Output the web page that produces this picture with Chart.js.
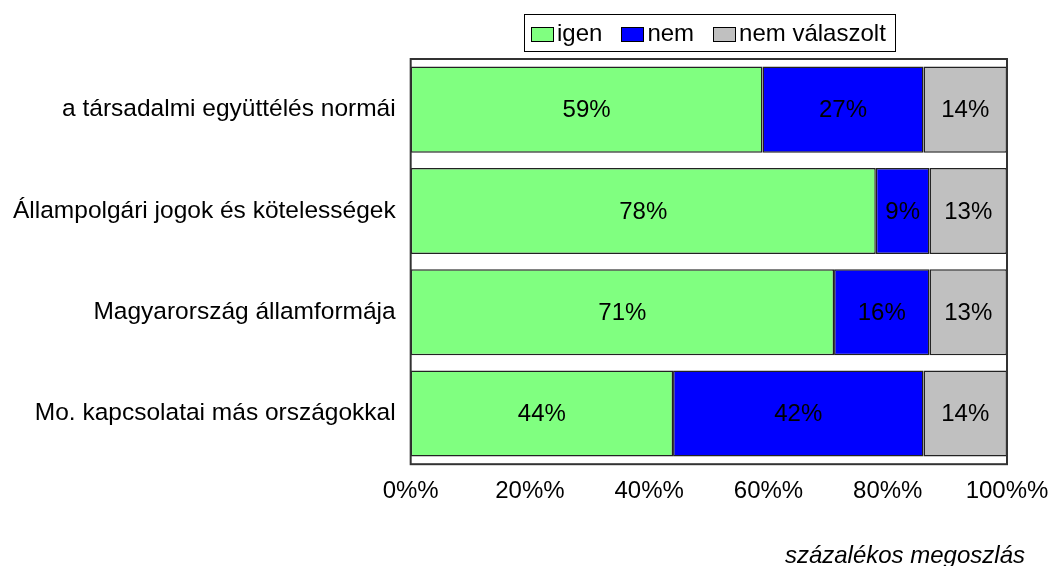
<!DOCTYPE html>
<html>
<head>
<meta charset="utf-8">
<script src="https://cdn.jsdelivr.net/npm/chart.js@4/dist/chart.umd.min.js"></script>
<style>
  body { margin: 0; background: #fff; }
  #wrap { position: relative; width: 1051px; height: 566px; overflow: hidden; }
  #legend {
    position: absolute; left: 524px; top: 14px; height: 36px;
    border: 1px solid #000; padding: 0 9px 0 6px;
    font: 24px "Liberation Sans", Arial, sans-serif; color: #000;
    display: flex; align-items: center; white-space: nowrap;
  }
  #legend span.box {
    display: inline-block; width: 23px; height: 15px;
    border: 1px solid #000; margin: 2px 3px 0 0; box-sizing: border-box;
  }
  #legend span.txt { margin-right: 19px; }
  #legend span.txt:last-child { margin-right: 0; }
  #axis_title {
    position: absolute; right: 26px; top: 541px; line-height: 28px;
    font: italic 24px "Liberation Sans", Arial, sans-serif; color: #000;
    white-space: nowrap;
  }
</style>
</head>
<body>
<div id="wrap">
  <canvas id="bar_chart" width="1051" height="566"></canvas>
  <div id="legend"></div>
  <div id="axis_title"></div>
</div>
<script>
// DATA
const categories = [
  "a társadalmi együttélés normái",
  "Állampolgári jogok és kötelességek",
  "Magyarország államformája",
  "Mo. kapcsolatai más országokkal",
];
const series_names = ["igen", "nem", "nem válaszolt"];
const igen_values = [59, 78, 71, 44];
const nem_values = [27, 9, 16, 42];
const nincs_values = [14, 13, 13, 14];
const tick_labels = ["0%%", "20%%", "40%%", "60%%", "80%%", "100%%"];
const axis_title = "százalékos megoszlás";

const colors = ["#80FF80", "#0000FF", "#C0C0C0"];
const FONT = "'Liberation Sans', Arial, sans-serif";

// HTML LEGEND + AXIS TITLE
const legend_element = document.getElementById("legend");
series_names.forEach((name, i) => {
  legend_element.innerHTML +=
    `<span class="box" style="background:${colors[i]}"></span><span class="txt">${name}</span>`;
});
document.getElementById("axis_title").textContent = axis_title;

// VALUE LABELS INSIDE BARS
const barLabels = {
  id: "barLabels",
  afterDatasetsDraw(chart) {
    const ctx = chart.ctx;
    ctx.save();
    ctx.font = `24px ${FONT}`;
    ctx.fillStyle = "#000";
    ctx.textAlign = "center";
    ctx.textBaseline = "middle";
    chart.data.datasets.forEach((ds, i) => {
      chart.getDatasetMeta(i).data.forEach((bar, j) => {
        const p = bar.getCenterPoint();
        ctx.fillText(ds.data[j] + "%", p.x, p.y + 1);
      });
    });
    ctx.restore();
  },
};

// PLOT AREA FRAME
const plotFrame = {
  id: "plotFrame",
  afterDraw(chart) {
    const a = chart.chartArea;
    const ctx = chart.ctx;
    ctx.save();
    ctx.strokeStyle = "#333";
    ctx.lineWidth = 2;
    ctx.strokeRect(a.left, a.top, a.right - a.left, a.bottom - a.top);
    ctx.restore();
  },
};

const ctx = document.getElementById("bar_chart").getContext("2d");
const my_chart = new Chart(ctx, {
  type: "bar",
  data: {
    labels: categories,
    datasets: [igen_values, nem_values, nincs_values].map((vals, i) => ({
      label: series_names[i],
      data: vals,
      backgroundColor: colors[i],
      borderColor: "#222",
      borderWidth: 1.5,
      borderSkipped: false,
      barPercentage: 0.85,
      categoryPercentage: 1,
    })),
  },
  options: {
    indexAxis: "y",
    responsive: false,
    animation: false,
    layout: { padding: { top: 59, right: 0, bottom: 47, left: -2 } },
    plugins: {
      legend: { display: false },
      tooltip: { enabled: false },
    },
    scales: {
      x: {
        stacked: true,
        min: 0,
        max: 100,
        grid: { display: false, drawTicks: false },
        border: { display: false },
        afterFit(scale) {
          scale.paddingRight = 44;
        },
        ticks: {
          stepSize: 20,
          color: "#000",
          padding: 13,
          font: { family: FONT, size: 24 },
          callback: (v, i) => tick_labels[i],
          maxRotation: 0,
        },
      },
      y: {
        stacked: true,
        grid: { display: false, drawTicks: false },
        border: { display: false },
        ticks: {
          color: "#000",
          padding: 15,
          font: { family: FONT, size: 24.5 },
        },
      },
    },
  },
  plugins: [barLabels, plotFrame],
});
</script>
</body>
</html>
